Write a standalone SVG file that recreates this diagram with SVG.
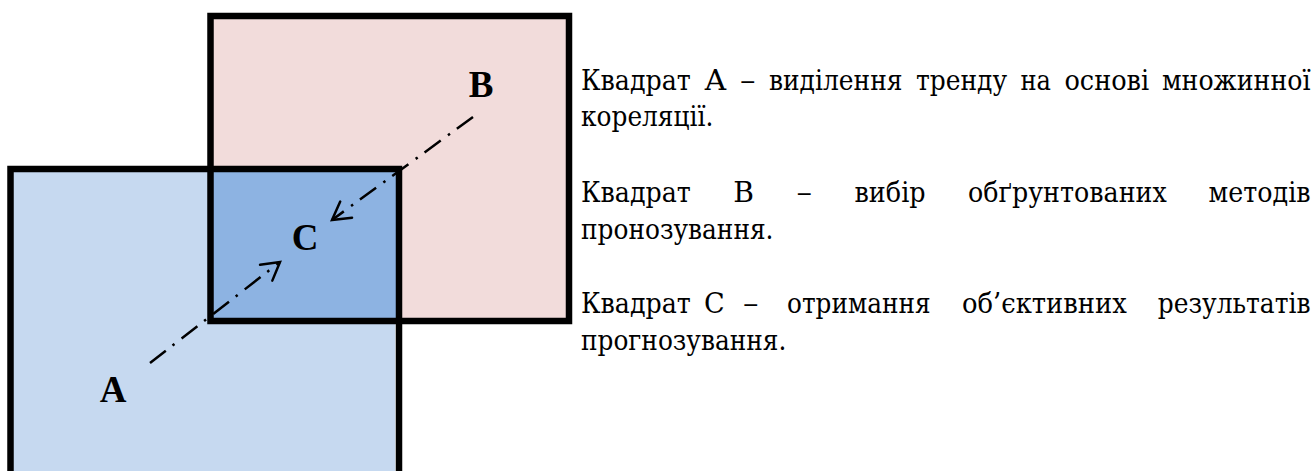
<svg xmlns="http://www.w3.org/2000/svg" width="1316" height="471" viewBox="0 0 1316 471">
  <style>
    .frame { fill: none; stroke: #000; stroke-width: 6.5; stroke-linejoin: miter; }
    .lbl { font-family: "Liberation Serif", "Times New Roman", serif; font-weight: bold; font-size: 37px; fill: #000; text-anchor: middle; }
    .txt { font-family: "DejaVu Serif", "Liberation Serif", serif; font-size: 28px; fill: #000; }
    .end { text-anchor: end; }
    .flow { fill: none; stroke: #000; stroke-width: 2.5; stroke-dasharray: 20 8.5 2.5 9; }
  </style>
  <defs>
    <marker id="openArrow" markerUnits="userSpaceOnUse" viewBox="-22 -14 26 28" markerWidth="26" markerHeight="28" refX="0" refY="0" orient="auto">
      <path d="M -17.5,-10 L 0,0 L -17.5,10" fill="none" stroke="#000" stroke-width="2.5" stroke-dasharray="none" stroke-linecap="round" stroke-linejoin="miter"/>
    </marker>
  </defs>

  <rect x="0" y="0" width="1316" height="471" fill="#ffffff"/>

  <g id="node-A">
    <rect x="10.5" y="169" width="388.5" height="320" fill="#C6D9F0"/>
    <line x1="395.5" y1="172" x2="395.5" y2="471" stroke="#ffffff" stroke-width="1" opacity="0.8"/>
    <text class="lbl" x="113" y="402">A</text>
  </g>

  <g id="node-B">
    <rect x="210.5" y="16" width="358.5" height="305" fill="#F2DCDB"/>
    <text class="lbl" x="481" y="97">B</text>
  </g>

  <g id="node-C">
    <rect x="210.5" y="169" width="188.5" height="152" fill="#8DB3E2"/>
    <text class="lbl" x="305" y="250">C</text>
  </g>

  <g id="frames">
    <rect class="frame" x="10.5" y="169" width="388.5" height="330"/>
    <rect class="frame" x="210.5" y="16" width="358.5" height="305"/>
  </g>

  <g id="connectors">
    <line class="flow" x1="150" y1="363" x2="280" y2="262" marker-end="url(#openArrow)"/>
    <line class="flow" x1="473" y1="117" x2="332" y2="220" marker-end="url(#openArrow)"/>
  </g>

  <g id="legend" class="txt">
    <text x="581" y="90" textLength="109.8" lengthAdjust="spacingAndGlyphs">Квадрат</text>
    <text x="704.2" y="90" textLength="22.4" lengthAdjust="spacingAndGlyphs">А</text>
    <text x="740" y="90" textLength="15.5" lengthAdjust="spacingAndGlyphs">–</text>
    <text x="768.9" y="90" textLength="133.6" lengthAdjust="spacingAndGlyphs">виділення</text>
    <text x="915.9" y="90" textLength="91.2" lengthAdjust="spacingAndGlyphs">тренду</text>
    <text x="1020.5" y="90" textLength="30.5" lengthAdjust="spacingAndGlyphs">на</text>
    <text x="1064.4" y="90" textLength="84.8" lengthAdjust="spacingAndGlyphs">основі</text>
    <text class="end" x="1310.5" y="90" textLength="148.5" lengthAdjust="spacingAndGlyphs">множинної</text>
    <text x="581" y="126" textLength="132.3" lengthAdjust="spacingAndGlyphs">кореляції.</text>

    <text x="581" y="202" textLength="109.8" lengthAdjust="spacingAndGlyphs">Квадрат</text>
    <text x="733.3" y="202" textLength="20.7" lengthAdjust="spacingAndGlyphs">В</text>
    <text x="796.5" y="202" textLength="15.5" lengthAdjust="spacingAndGlyphs">–</text>
    <text x="854.5" y="202" textLength="71.1" lengthAdjust="spacingAndGlyphs">вибір</text>
    <text x="968.1" y="202" textLength="198.6" lengthAdjust="spacingAndGlyphs">обґрунтованих</text>
    <text class="end" x="1310.5" y="202" textLength="101.9" lengthAdjust="spacingAndGlyphs">методів</text>
    <text x="581" y="238.5" textLength="192.5" lengthAdjust="spacingAndGlyphs">пронозування.</text>

    <text x="581" y="313" textLength="109.8" lengthAdjust="spacingAndGlyphs">Квадрат</text>
    <text x="704" y="313" textLength="20.7" lengthAdjust="spacingAndGlyphs">С</text>
    <text x="743" y="313" textLength="15.5" lengthAdjust="spacingAndGlyphs">–</text>
    <text x="787" y="313" textLength="143.5" lengthAdjust="spacingAndGlyphs">отримання</text>
    <text x="961.9" y="313" textLength="164.9" lengthAdjust="spacingAndGlyphs">об’єктивних</text>
    <text class="end" x="1310.5" y="313" textLength="152.8" lengthAdjust="spacingAndGlyphs">результатів</text>
    <text x="581" y="349.5" textLength="205.3" lengthAdjust="spacingAndGlyphs">прогнозування.</text>
  </g>
</svg>
